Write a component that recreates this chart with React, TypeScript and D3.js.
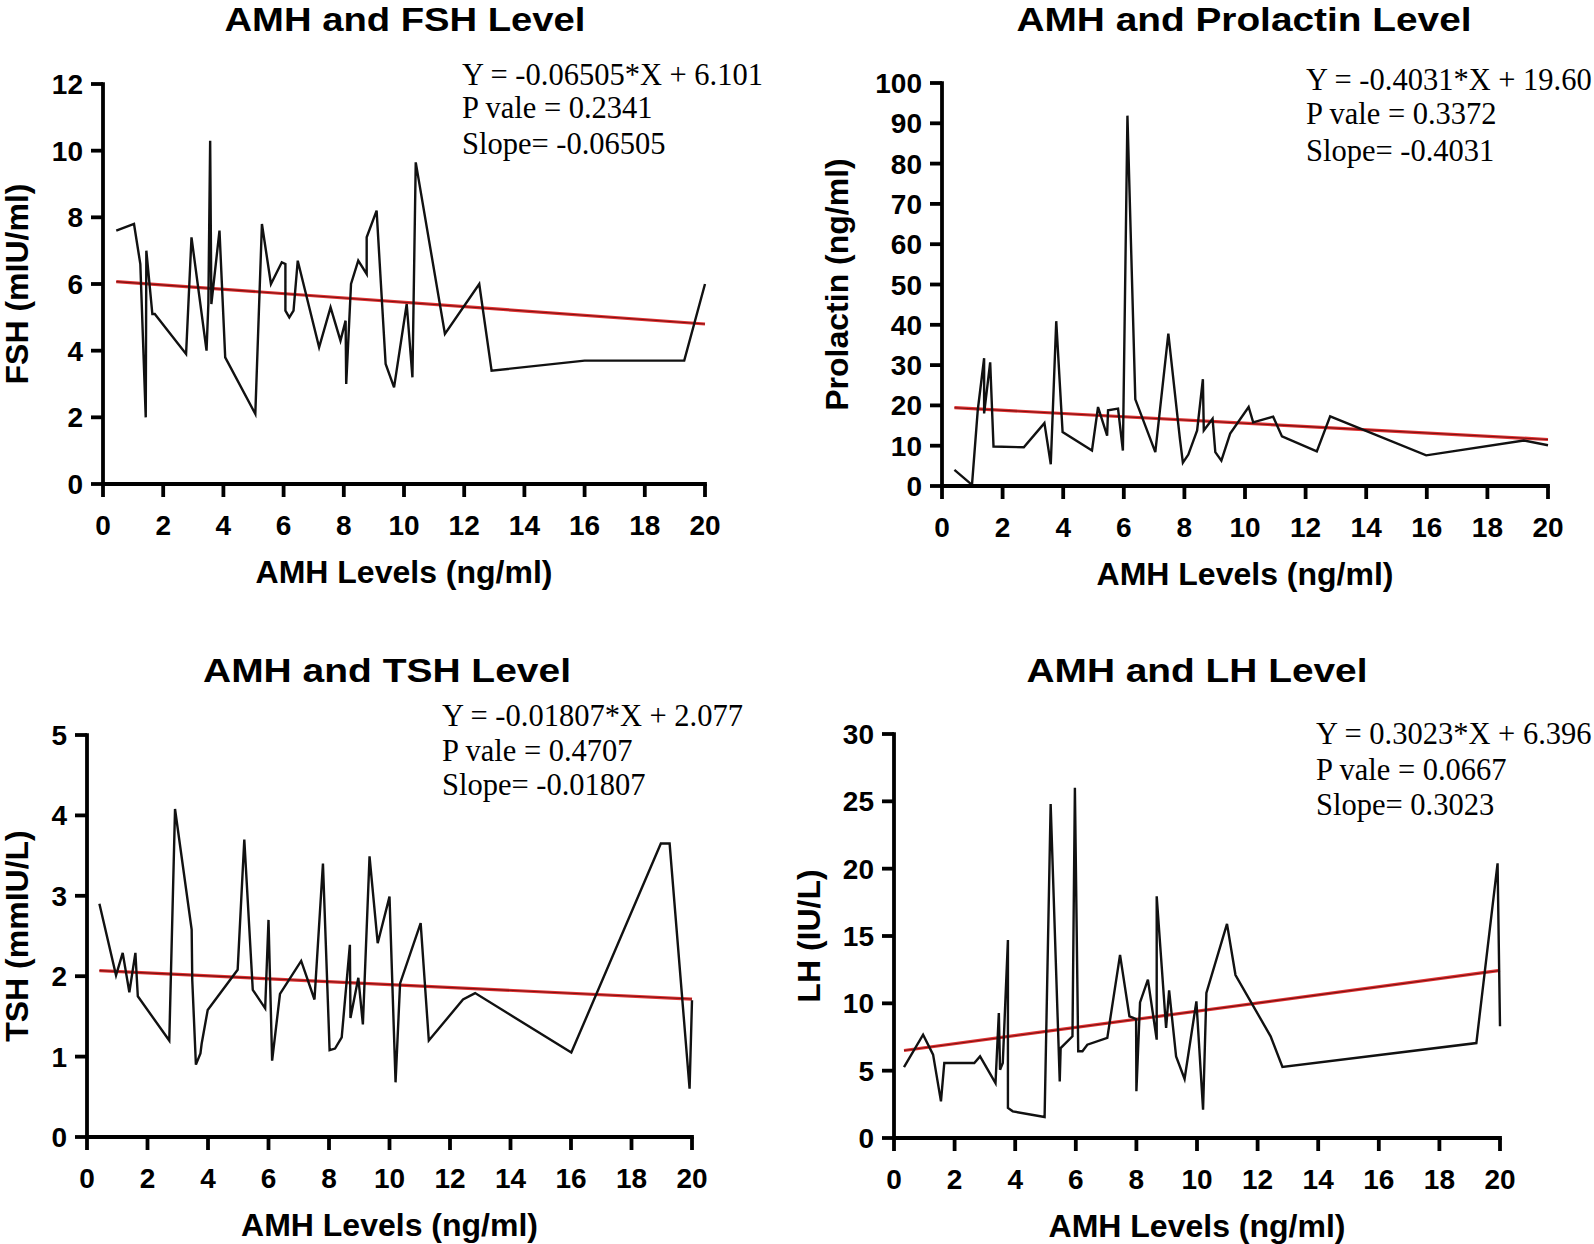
import React from "react";
import * as d3 from "d3";

// ---------- data ----------
const fshX = [0.44,1.03,1.24,1.42,1.44,1.64,1.72,2.76,2.94,3.44,3.5,3.56,3.6,3.87,4.06,5.06,5.28,5.58,5.94,6.06,6.06,6.19,6.33,6.47,7.18,7.56,7.89,8.06,8.08,8.24,8.48,8.76,8.76,9.09,9.39,9.67,10.09,10.28,10.39,11.36,12.5,12.91,16.0,19.31,20.0];
const fshY = [7.6,7.8,6.6,2.0,7.0,5.1,5.1,3.9,7.4,4.0,5.4,10.3,5.4,7.6,3.8,2.1,7.8,6.0,6.65,6.6,5.2,5.0,5.2,6.7,4.1,5.3,4.3,4.9,3.0,6.0,6.7,6.3,7.4,8.2,3.6,2.9,5.4,3.2,9.65,4.5,6.0,3.4,3.7,3.7,6.0];

const prlX = [0.41,0.99,1.18,1.39,1.39,1.59,1.70,2.70,3.38,3.59,3.77,3.98,4.95,5.15,5.45,5.48,5.81,5.97,6.12,6.38,7.04,7.47,7.85,7.95,8.13,8.42,8.61,8.64,8.93,9.02,9.22,9.51,10.12,10.27,10.93,11.22,12.37,12.81,15.98,19.2,20.0];
const prlY = [4.0,0.3,18.8,31.7,18.0,30.7,9.8,9.6,15.6,5.4,40.9,13.4,8.8,19.6,12.5,18.8,19.2,8.8,91.9,21.5,8.4,37.8,11.8,5.8,7.8,13.8,26.5,13.8,16.7,8.4,6.3,13.0,19.6,15.8,17.2,12.3,8.6,17.3,7.6,11.3,10.1];

const tshX = [0.41,0.96,1.18,1.4,1.6,1.68,2.72,2.91,3.46,3.48,3.6,3.75,3.79,3.99,4.98,5.2,5.48,5.89,6.0,6.12,6.38,7.08,7.52,7.8,8.02,8.2,8.42,8.69,8.71,8.97,9.12,9.34,9.61,10.0,10.2,10.35,11.03,11.3,12.43,12.83,16.01,18.97,19.26,19.92,20.0];
const tshY = [2.9,2.01,2.29,1.8,2.29,1.75,1.2,4.08,2.58,1.95,0.9,1.04,1.16,1.58,2.08,3.7,1.83,1.6,2.7,0.95,1.78,2.19,1.71,3.4,1.08,1.1,1.24,2.39,1.48,1.98,1.4,3.49,2.41,2.99,0.68,1.91,2.66,1.2,1.71,1.79,1.05,3.65,3.65,0.6,1.7];

const lhX = [0.33,0.96,1.29,1.55,1.66,2.65,2.84,3.35,3.46,3.5,3.59,3.76,3.76,3.92,4.97,5.17,5.47,5.5,5.89,5.97,6.08,6.22,6.38,7.04,7.46,7.77,7.99,8.0,8.12,8.38,8.67,8.67,8.98,9.08,9.31,9.59,9.98,10.2,10.31,10.99,11.27,12.43,12.82,19.22,19.92,20.0];
const lhY = [5.27,7.67,6.19,2.72,5.57,5.57,6.06,4.08,9.28,5.07,5.57,14.7,2.23,1.98,1.56,24.8,4.2,6.68,7.55,26.0,6.44,6.44,6.93,7.43,13.6,9.03,8.84,3.47,10.07,11.76,7.3,17.95,8.17,10.97,6.06,4.38,10.15,2.1,10.77,15.9,12.1,7.55,5.27,7.05,20.4,8.3];

const xTicks = [0,2,4,6,8,10,12,14,16,18,20];
const fshTicks = [0,2,4,6,8,10,12];
const prlTicks = [0,10,20,30,40,50,60,70,80,90,100];
const tshTicks = [0,1,2,3,4,5];
const lhTicks = [0,5,10,15,20,25,30];

const titles = ["AMH and FSH Level","AMH and Prolactin Level","AMH and TSH Level","AMH and LH Level"];
const yLabels = ["FSH (mIU/ml)","Prolactin (ng/ml)","TSH (mmIU/L)","LH (IU/L)"];
const xLabel = "AMH Levels (ng/ml)";
const slopes = [-0.06505,-0.4031,-0.01807,0.3023];
const intercepts = [6.101,19.60,2.077,6.396];
const equations = [
  ["Y = -0.06505*X + 6.101","P vale = 0.2341","Slope= -0.06505"],
  ["Y = -0.4031*X + 19.60","P vale = 0.3372","Slope= -0.4031"],
  ["Y = -0.01807*X + 2.077","P vale = 0.4707","Slope= -0.01807"],
  ["Y = 0.3023*X + 6.396","P vale = 0.0667","Slope= 0.3023"],
];

// ---------- layout ----------
const layouts = [
  { l:103, r:705, t:84, b:484, titleX:405, titleY:31, titleW:361, yLabX:28, eqX:462, eqY:[85,118,154] },
  { l:942, r:1548, t:83, b:486, titleX:1244, titleY:31, titleW:455, yLabX:848, eqX:1306, eqY:[90,124,161] },
  { l:87, r:692, t:735, b:1137, titleX:387, titleY:682, titleW:368, yLabX:28, eqX:442, eqY:[726,761,795] },
  { l:894, r:1500, t:734, b:1138, titleX:1197, titleY:682, titleW:341, yLabX:820, eqX:1316, eqY:[744,780,815] },
];

const SANS = "'Liberation Sans', Arial, sans-serif";
const SERIF = "'Liberation Serif', 'Times New Roman', serif";

function Panel({ i, xs, ys, yTicks }) {
  const L = layouts[i];
  const x = d3.scaleLinear().domain([0, 20]).range([L.l, L.r]);
  const y = d3.scaleLinear().domain([0, yTicks[yTicks.length - 1]]).range([L.b, L.t]);
  const pts = xs.map((v, k) => [v, ys[k]]);
  const line = d3.line().x((d) => x(d[0])).y((d) => y(d[1]));
  const x0 = d3.min(xs), x1 = d3.max(xs);
  const reg = [[x0, slopes[i] * x0 + intercepts[i]], [x1, slopes[i] * x1 + intercepts[i]]];
  const cy = (L.t + L.b) / 2;
  return (
    <g>
      <text x={L.titleX} y={L.titleY} textAnchor="middle" fontFamily={SANS} fontWeight="bold" fontSize={34}
        textLength={L.titleW} lengthAdjust="spacingAndGlyphs">{titles[i]}</text>
      {/* regression */}
      <path d={line(reg)} stroke="#e03232" strokeWidth={3.2} fill="none" />
      <path d={line(reg)} stroke="#7a1212" strokeWidth={1.1} fill="none" />
      {/* data line */}
      <path d={line(pts)} stroke="#111" strokeWidth={2.4} fill="none" strokeLinejoin="miter" />
      {/* axes */}
      <line x1={L.l} x2={L.l} y1={y(yTicks[yTicks.length - 1]) - 1.75} y2={L.b + 1.75} stroke="#000" strokeWidth={3.8} />
      <line x1={L.l - 1.9} x2={L.r + 1.9} y1={L.b} y2={L.b} stroke="#000" strokeWidth={3.8} />
      {yTicks.map((t) => (
        <g key={"y" + t}>
          <line x1={L.l - 12} x2={L.l} y1={y(t)} y2={y(t)} stroke="#000" strokeWidth={3.8} />
          <text x={L.l - 20} y={y(t) + 10} textAnchor="end" fontFamily={SANS} fontWeight="bold" fontSize={28}>{t}</text>
        </g>
      ))}
      {xTicks.map((t) => (
        <g key={"x" + t}>
          <line x1={x(t)} x2={x(t)} y1={L.b} y2={L.b + 13} stroke="#000" strokeWidth={3.8} />
          <text x={x(t)} y={L.b + 51} textAnchor="middle" fontFamily={SANS} fontWeight="bold" fontSize={28}>{t}</text>
        </g>
      ))}
      <text x={(L.l + L.r) / 2} y={L.b + 99} textAnchor="middle" fontFamily={SANS} fontWeight="bold" fontSize={32}>{xLabel}</text>
      <text transform={`translate(${L.yLabX},${cy}) rotate(-90)`} textAnchor="middle" fontFamily={SANS} fontWeight="bold" fontSize={32}>{yLabels[i]}</text>
      {equations[i].map((s, k) => (
        <text key={k} x={L.eqX} y={L.eqY[k]} fontFamily={SERIF} fontSize={30.5}>{s}</text>
      ))}
    </g>
  );
}

export default function App() {
  return (
    <svg width={1594} height={1244} viewBox="0 0 1594 1244" style={{ position: "absolute", left: 0, top: 0, background: "#fff" }}>
      <rect width={1594} height={1244} fill="#fff" />
      <Panel i={0} xs={fshX} ys={fshY} yTicks={fshTicks} />
      <Panel i={1} xs={prlX} ys={prlY} yTicks={prlTicks} />
      <Panel i={2} xs={tshX} ys={tshY} yTicks={tshTicks} />
      <Panel i={3} xs={lhX} ys={lhY} yTicks={lhTicks} />
    </svg>
  );
}
